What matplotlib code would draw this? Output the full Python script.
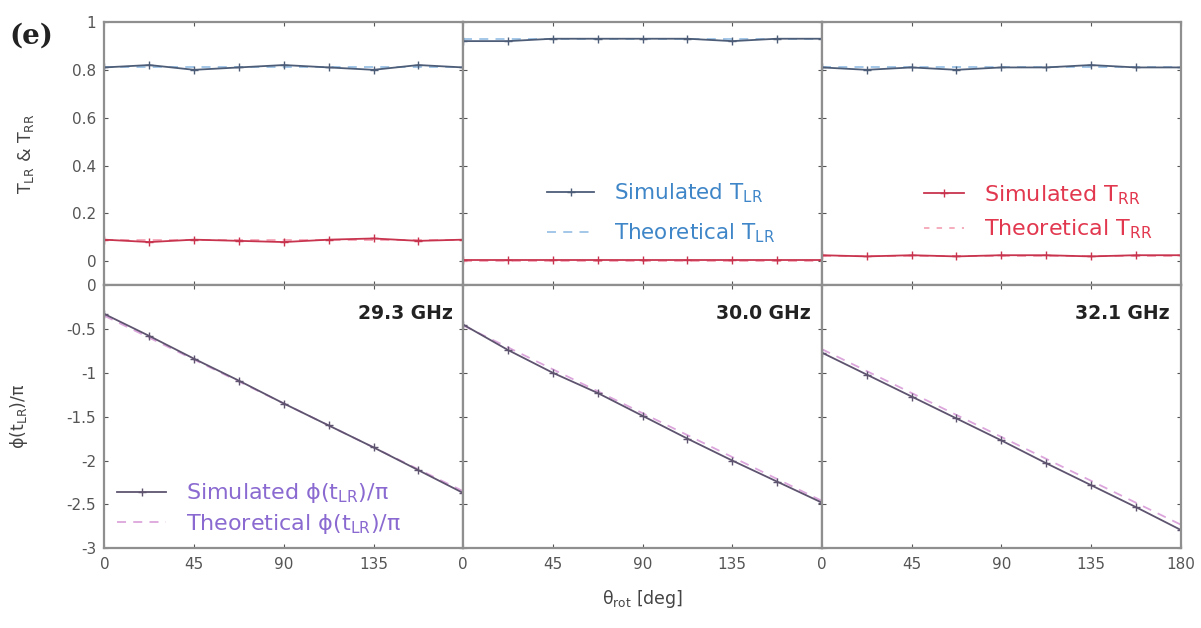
import matplotlib
matplotlib.use("Agg")
import matplotlib.pyplot as plt
from matplotlib.lines import Line2D

# rotation angle (deg)
theta = [0, 22.5, 45, 67.5, 90, 112.5, 135, 157.5, 180]
freqs = ["29.3 GHz", "30.0 GHz", "32.1 GHz"]

# transmission magnitudes, one list per frequency
sim_tlr = [
    [0.81, 0.82, 0.80, 0.81, 0.82, 0.81, 0.80, 0.82, 0.81],
    [0.92, 0.92, 0.93, 0.93, 0.93, 0.93, 0.92, 0.93, 0.93],
    [0.81, 0.80, 0.81, 0.80, 0.81, 0.81, 0.82, 0.81, 0.81],
]
theo_tlr = [
    [0.81, 0.81, 0.81, 0.81, 0.81, 0.81, 0.81, 0.81, 0.81],
    [0.93, 0.93, 0.93, 0.93, 0.93, 0.93, 0.93, 0.93, 0.93],
    [0.81, 0.81, 0.81, 0.81, 0.81, 0.81, 0.81, 0.81, 0.81],
]
sim_trr = [
    [0.09, 0.08, 0.09, 0.085, 0.08, 0.09, 0.095, 0.085, 0.09],
    [0.005, 0.005, 0.005, 0.005, 0.005, 0.005, 0.005, 0.005, 0.005],
    [0.025, 0.02, 0.025, 0.02, 0.025, 0.025, 0.02, 0.025, 0.025],
]
theo_trr = [
    [0.09, 0.09, 0.09, 0.09, 0.09, 0.09, 0.09, 0.09, 0.09],
    [0.0, 0.0, 0.0, 0.0, 0.0, 0.0, 0.0, 0.0, 0.0],
    [0.02, 0.02, 0.02, 0.02, 0.02, 0.02, 0.02, 0.02, 0.02],
]

# phase of t_LR divided by pi
sim_phase = [
    [-0.33, -0.58, -0.84, -1.09, -1.35, -1.60, -1.85, -2.11, -2.37],
    [-0.45, -0.74, -1.00, -1.23, -1.49, -1.75, -2.00, -2.24, -2.48],
    [-0.77, -1.02, -1.27, -1.52, -1.77, -2.03, -2.28, -2.53, -2.79],
]
theo_phase = [
    [-0.35, -0.60, -0.85, -1.10, -1.35, -1.60, -1.85, -2.10, -2.35],
    [-0.46, -0.71, -0.96, -1.21, -1.46, -1.71, -1.96, -2.21, -2.46],
    [-0.73, -0.98, -1.23, -1.48, -1.73, -1.98, -2.23, -2.48, -2.73],
]

c_lr_sim, c_lr_theo, c_lr_txt = "#4d5d78", "#9cc3e6", "#3f86c8"
c_rr_sim, c_rr_theo, c_rr_txt = "#c8344e", "#f3a6b6", "#e2384f"
c_ph_sim, c_ph_theo, c_ph_txt = "#5e5470", "#dca6dc", "#8a6ad0"
frame = "#8f8f8f"

fig = plt.figure(figsize=(12.01, 6.28), dpi=100)
gs = fig.add_gridspec(2, 3, left=0.087, right=0.983, top=0.965, bottom=0.127,
                      wspace=0, hspace=0)

top_axes, bot_axes = [], []
for j in range(3):
    at = fig.add_subplot(gs[0, j])
    ab = fig.add_subplot(gs[1, j])
    top_axes.append(at)
    bot_axes.append(ab)

    at.plot(theta, theo_tlr[j], ls=(0, (5, 4)), color=c_lr_theo, lw=1.3)
    at.plot(theta, sim_tlr[j], marker="+", ms=6, color=c_lr_sim, lw=1.3)
    at.plot(theta, theo_trr[j], ls=(0, (5, 4)), color=c_rr_theo, lw=1.3)
    at.plot(theta, sim_trr[j], marker="+", ms=6, color=c_rr_sim, lw=1.3)

    ab.plot(theta, theo_phase[j], ls=(0, (5, 4)), color=c_ph_theo, lw=1.3)
    ab.plot(theta, sim_phase[j], marker="+", ms=6, color=c_ph_sim, lw=1.3)
    ab.text(0.97, 0.93, freqs[j], transform=ab.transAxes, ha="right", va="top",
            fontsize=13.5, fontweight="bold", color="#222222")

    at.set_ylim(-0.1, 1.0)
    ab.set_ylim(-3, 0)
    for ax in (at, ab):
        ax.set_xlim(0, 180)
        ax.set_xticks([0, 45, 90, 135, 180])
        ax.tick_params(direction="in", top=True, right=True, length=3,
                       colors="#555555", labelsize=11, pad=6)
        for s in ax.spines.values():
            s.set_color(frame)
            s.set_linewidth(1.6)
    at.set_yticks([0, 0.2, 0.4, 0.6, 0.8, 1.0])
    ab.set_yticks([0, -0.5, -1, -1.5, -2, -2.5, -3])
    at.tick_params(labelbottom=False)
    if j == 0:
        at.set_yticklabels(["0", "0.2", "0.4", "0.6", "0.8", "1"])
        ab.set_yticklabels(["0", "-0.5", "-1", "-1.5", "-2", "-2.5", "-3"])
    else:
        at.tick_params(labelleft=False)
        ab.tick_params(labelleft=False)
    if j < 2:
        ab.set_xticklabels(["0", "45", "90", "135", ""])

# legends
h1 = [Line2D([], [], color=c_lr_sim, marker="+", ms=6, lw=1.3),
      Line2D([], [], color=c_lr_theo, ls=(0, (5, 4)), lw=1.3)]
leg = top_axes[1].legend(h1, [r"Simulated T$_\mathrm{LR}$", r"Theoretical T$_\mathrm{LR}$"],
                         loc="lower left", bbox_to_anchor=(0.18, 0.08),
                         frameon=False, fontsize=15.5, handlelength=2.2,
                         labelspacing=0.75, handletextpad=0.9)
for t in leg.get_texts():
    t.set_color(c_lr_txt)

h2 = [Line2D([], [], color=c_rr_sim, marker="+", ms=6, lw=1.3),
      Line2D([], [], color=c_rr_theo, ls=(0, (3, 4)), lw=1.3)]
leg = top_axes[2].legend(h2, [r"Simulated T$_\mathrm{RR}$", r"Theoretical T$_\mathrm{RR}$"],
                         loc="lower left", bbox_to_anchor=(0.23, 0.09),
                         frameon=False, fontsize=16, handlelength=1.8,
                         labelspacing=0.5, handletextpad=0.9)
for t in leg.get_texts():
    t.set_color(c_rr_txt)

h3 = [Line2D([], [], color=c_ph_sim, marker="+", ms=6, lw=1.3),
      Line2D([], [], color=c_ph_theo, ls=(0, (5, 4)), lw=1.3)]
leg = bot_axes[0].legend(h3, [r"Simulated ϕ(t$_\mathrm{LR}$)/π", r"Theoretical ϕ(t$_\mathrm{LR}$)/π"],
                         loc="lower left", bbox_to_anchor=(-0.02, -0.03),
                         frameon=False, fontsize=16, handlelength=2.2,
                         labelspacing=0.3, handletextpad=0.9)
for t in leg.get_texts():
    t.set_color(c_ph_txt)

top_axes[0].set_ylabel(r"T$_\mathrm{LR}$ & T$_\mathrm{RR}$", fontsize=12.5,
                       color="#444444", labelpad=26)
bot_axes[0].set_ylabel(r"ϕ(t$_\mathrm{LR}$)/π", fontsize=12.5, color="#444444",
                       labelpad=26)
bot_axes[1].set_xlabel(r"θ$_\mathrm{rot}$ [deg]", fontsize=12.5, color="#444444",
                       labelpad=12)

fig.text(0.008, 0.943, "(e)", fontsize=20, fontweight="bold", family="DejaVu Serif",
         ha="left", va="center", color="#222222")

fig.savefig("out.png", dpi=100)
